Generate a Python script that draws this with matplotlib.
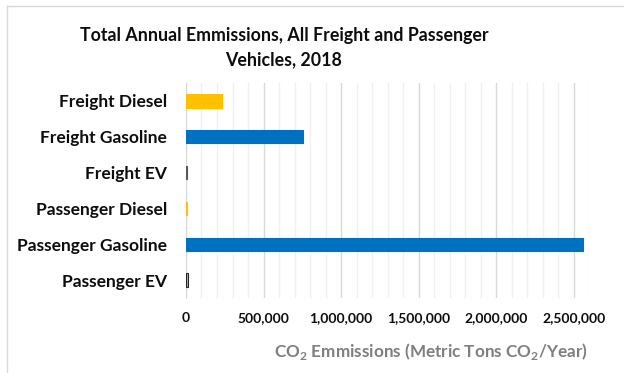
import matplotlib.pyplot as plt
from matplotlib.ticker import FuncFormatter, MultipleLocator
from matplotlib.lines import Line2D

# Annual CO2 emissions by vehicle class (metric tons CO2 / year)
categories = ["Passenger EV", "Passenger Gasoline", "Passenger Diesel",
              "Freight EV", "Freight Gasoline", "Freight Diesel"]
emissions = [15000, 2558000, 9000, 5000, 752000, 231000]
colors = ["#C9C12F", "#0070C0", "#FFC000", "#7F7F7F", "#0070C0", "#FFC000"]
edges = ["#262626", "#0070C0", "#FFC000", "#595959", "#0070C0", "#FFC000"]
ticks = [0, 500000, 1000000, 1500000, 2000000, 2500000]

plt.rcParams['font.family'] = ['Lato', 'DejaVu Sans']
plt.rcParams['mathtext.fontset'] = 'custom'
plt.rcParams['mathtext.rm'] = 'Lato'
plt.rcParams['mathtext.bf'] = 'Lato:bold'

fig = plt.figure(figsize=(6.24, 3.73), dpi=100)
ax = fig.add_axes([0.298, 0.201, 0.6467, 0.5765])

ax.barh(categories, emissions, height=0.37, color=colors, edgecolor=edges,
        linewidth=0.8, zorder=3)

ax.set_xlim(0, 2600000)
ax.set_ylim(-0.5, 5.5)
ax.set_xticks(ticks)
ax.xaxis.set_minor_locator(MultipleLocator(100000))
ax.xaxis.set_major_formatter(FuncFormatter(lambda v, p: f"{int(v):,}"))
ax.grid(axis='x', which='major', color='#D9D9D9', linewidth=1.0, zorder=0)
ax.grid(axis='x', which='minor', color='#F0F0F0', linewidth=1.0, zorder=0)
ax.tick_params(axis='both', which='both', length=0)
ax.tick_params(axis='x', labelsize=10, pad=10)
ax.tick_params(axis='y', labelsize=12.5, pad=13.5)
for lbl in ax.get_xticklabels() + ax.get_yticklabels():
    lbl.set_fontweight('bold')
    lbl.set_color('#0D0D0D')
for side in ['top', 'right', 'bottom']:
    ax.spines[side].set_visible(False)
ax.spines['left'].set_color('#D9D9D9')

fig.text(0.455, 0.905, "Total Annual Emmissions, All Freight and Passenger",
         ha='center', va='center', fontsize=12.8, fontweight='bold', color='#0D0D0D')
fig.text(0.455, 0.84, "Vehicles, 2018",
         ha='center', va='center', fontsize=12.8, fontweight='bold', color='#0D0D0D')
fig.text(0.691, 0.058, r"CO$_\mathbf{2}$ Emmissions (Metric Tons CO$_\mathbf{2}$/Year)",
         ha='center', va='center', fontsize=12.3, fontweight='bold', color='#7F7F7F')

# light chart-area border along the top and left edges
fig.add_artist(Line2D([0.012, 0.012], [0, 0.985], transform=fig.transFigure,
                      color='#D9D9D9', linewidth=1.0))
fig.add_artist(Line2D([0.012, 1.0], [0.985, 0.985], transform=fig.transFigure,
                      color='#D9D9D9', linewidth=1.0))

fig.savefig("out.png", dpi=100)
